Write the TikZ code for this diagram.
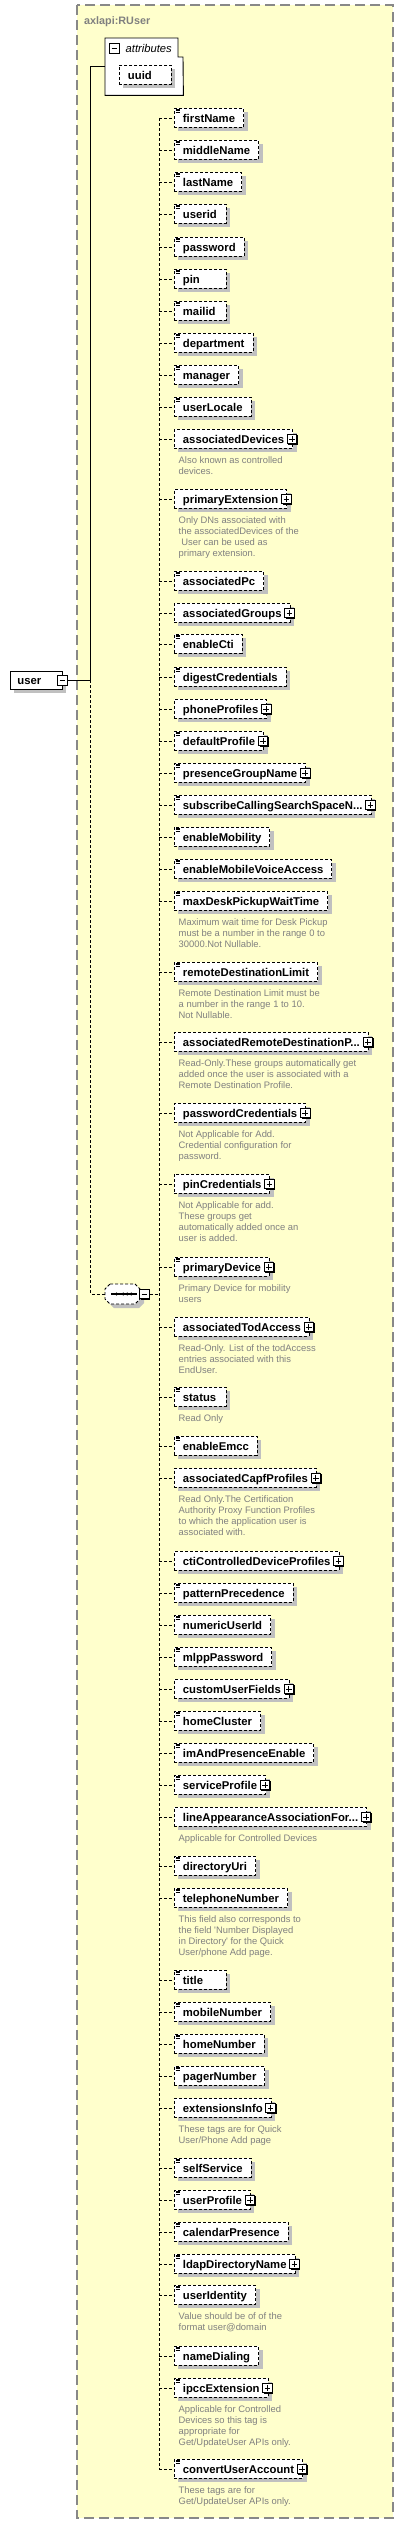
\documentclass[tikz,border=0pt]{standalone}
\usepackage{fontspec}
\setmainfont{Liberation Sans}
\newfontfamily\xsans{Liberation Sans}
\usetikzlibrary{shadows}
\definecolor{bgyellow}{HTML}{FFFFCC}
\definecolor{framegray}{HTML}{888888}
\definecolor{titlegray}{HTML}{808080}
\definecolor{descgray}{HTML}{808080}
\definecolor{shadowgray}{HTML}{C0C0C0}
\newlength\xlen
\newcommand{\padto}[1]{\settowidth{\xlen}{#1}\ifdim\xlen<35pt\makebox[35pt][l]{#1}\else#1\fi}
\tikzset{
  elem/.style={draw, fill=white, line width=0.9pt, dash pattern=on 3pt off 2pt,
    inner xsep=8.5pt, inner ysep=0pt, minimum height=19pt, text height=10pt, text depth=1.6pt,
    font=\xsans\fontsize{11.3}{13}\selectfont\bfseries,
    drop shadow={shadow xshift=4pt, shadow yshift=-4pt, fill=shadowgray, opacity=1},
    anchor=north west},
  userbox/.style={draw, fill=white, line width=0.9pt,
    inner xsep=7pt, inner ysep=0pt, minimum height=18pt, text height=10pt, text depth=1.6pt,
    font=\xsans\fontsize{11.3}{13}\selectfont\bfseries,
    drop shadow={shadow xshift=4pt, shadow yshift=-4pt, fill=shadowgray, opacity=1},
    anchor=north west},
  conn/.style={line width=0.9pt, dash pattern=on 3pt off 2pt},
  solidline/.style={line width=0.9pt},
  plusbox/.style={draw, fill=white, line width=0.8pt, minimum size=9.5pt, inner sep=0pt,
    drop shadow={shadow xshift=1.2pt, shadow yshift=-1.2pt, fill=black, opacity=1}},
  desc/.style={anchor=north west, inner sep=0pt, align=left, text=descgray,
    font=\xsans\fontsize{9.4}{11}\selectfont},
  frame/.style={draw=framegray, fill=bgyellow, line width=1.2pt, dash pattern=on 10pt off 5pt}
}
% element box + connector
\newcommand{\xel}[3]{\node[elem] (#1) at (174,#2) {\padto{#3}};
  \draw[conn] (cx |- #1.west) -- (#1.west);}
% simple-type icon
\newcommand{\xic}[1]{\foreach \k in {1,2.7,4.4}{\draw[line width=0.8pt] ([xshift=1.6pt,yshift=-\k pt]#1.north west) -- ++(4.6,0);}}
% expand (plus) box
\newcommand{\xpl}[1]{\node[plusbox] (#1p) at ([xshift=-1pt]#1.east) {};
  \draw[line width=0.8pt] ([xshift=-2.8pt]#1p.center) -- ([xshift=2.8pt]#1p.center)
    ([yshift=-2.8pt]#1p.center) -- ([yshift=2.8pt]#1p.center);}
% description
\newcommand{\xds}[2]{\node[desc] (#1d) at ([xshift=4.5pt,yshift=-26.5pt]#1.north west) {\rule{0pt}{8pt}#2};}
\begin{document}
\begin{tikzpicture}[x=1pt,y=-1pt]
\useasboundingbox (0,0) rectangle (404,2524);
\fill[white] (0,0) rectangle (404,2524);
\draw[frame] (77,5) rectangle (393,2518);
\node[anchor=base west, inner sep=0pt, text=titlegray, font=\xsans\fontsize{10.8}{13}\selectfont\bfseries] (ttl0) at (84,24) {axlapi:RUser};
\coordinate (vx) at (90.5,0);
\coordinate (cx) at (159.3,0);
% attributes group
\node[inner sep=0pt, minimum width=78pt, minimum height=57pt, anchor=north west] (attr) at (105,38) {};
\draw[solidline, fill=white] (attr.north west) -- ++(73,0) -- ++(0,19) -- ++(5,0) -- (attr.south east) -- (attr.south west) -- cycle;
\node[plusbox] (attrm) at (114.5,48.5) {};
\draw[line width=0.8pt] ([xshift=-2.8pt]attrm.center) -- ([xshift=2.8pt]attrm.center);
\node[anchor=west, inner sep=0pt, font=\xsans\fontsize{11.2}{13}\selectfont\itshape] (attrt) at (125.5,48.5) {attributes};
\node[elem] (uuid) at (119,65) {\padto{uuid}};
% root element
\node[userbox] (user) at (10,671) {\makebox[38pt][l]{user}};
\node[plusbox] (userm) at ([xshift=-0.5pt]user.east) {};
\draw[line width=0.8pt] ([xshift=-2.8pt]userm.center) -- ([xshift=2.8pt]userm.center);
\draw[solidline] (userm.east) -- (vx |- userm.east);
\draw[solidline] (attr.west) -- (vx |- attr.west) -- (vx |- userm.east);
% sequence compositor
\node[inner sep=0pt, minimum width=35pt, minimum height=20pt] (seq) at (122.5,1294) {};
\fill[shadowgray, shift={(4,4)}] (110,1284) -- (135,1284) -- (140,1289) -- (140,1299) -- (135,1304) -- (110,1304) -- (105,1299) -- (105,1289) -- cycle;
\draw[conn, fill=white] (110,1284) -- (135,1284) -- (140,1289) -- (140,1299) -- (135,1304) -- (110,1304) -- (105,1299) -- (105,1289) -- cycle;
\draw[line width=1.1pt] (111,1294) -- (137,1294);
\foreach \d in {116.5,123.3,127.3,131.3}{\fill (\d,1294) circle[radius=1.6pt];}
\node[plusbox] (seqm) at (144.5,1294) {};
\draw[line width=0.8pt] ([xshift=-2.8pt]seqm.center) -- ([xshift=2.8pt]seqm.center);
\draw[conn] (vx |- userm.east) -- (vx |- seq.west) -- (seq.west);
% children
\xel{fn}{108}{firstName}\xic{fn}
\xel{mn}{140}{middleName}\xic{mn}
\xel{lnm}{172}{lastName}\xic{lnm}
\xel{uid}{204}{userid}\xic{uid}
\xel{pw}{237}{password}\xic{pw}
\xel{pin}{269}{pin}\xic{pin}
\xel{mail}{301}{mailid}\xic{mail}
\xel{dep}{333}{department}\xic{dep}
\xel{mgr}{365}{manager}\xic{mgr}
\xel{loc}{397}{userLocale}\xic{loc}
\xel{adev}{429}{associatedDevices\hspace{4pt}}\xpl{adev}
\xds{adev}{Also known as controlled\\devices.}
\xel{pext}{489}{primaryExtension\hspace{4pt}}\xpl{pext}
\xds{pext}{Only DNs associated with\\the associatedDevices of the\\\hspace{2.6pt}User can be used as\\primary extension.}
\xel{apc}{571}{associatedPc}\xic{apc}
\xel{agrp}{603}{associatedGroups\hspace{4pt}}\xpl{agrp}
\xel{cti}{634}{enableCti}\xic{cti}
\xel{dig}{667}{digestCredentials}\xic{dig}
\xel{php}{699}{phoneProfiles\hspace{4pt}}\xpl{php}
\xel{dprof}{731}{defaultProfile\hspace{4pt}}\xic{dprof}\xpl{dprof}
\xel{pgn}{763}{presenceGroupName\hspace{4pt}}\xic{pgn}\xpl{pgn}
\xel{scss}{795}{subscribeCallingSearchSpaceN...\hspace{4pt}}\xic{scss}\xpl{scss}
\xel{emob}{827}{enableMobility}\xic{emob}
\xel{emva}{859}{enableMobileVoiceAccess}\xic{emva}
\xel{mdp}{891}{maxDeskPickupWaitTime}\xic{mdp}
\xds{mdp}{Maximum wait time for Desk Pickup\\must be a number in the range 0 to\\30000.Not Nullable.}
\xel{rdl}{962}{remoteDestinationLimit}\xic{rdl}
\xds{rdl}{Remote Destination Limit must be\\a number in the range 1 to 10.\\Not Nullable.}
\xel{ardp}{1032}{associatedRemoteDestinationP...\hspace{4pt}}\xpl{ardp}
\xds{ardp}{Read-Only.These groups automatically get\\added once the user is associated with a\\Remote Destination Profile.}
\xel{pwc}{1103}{passwordCredentials\hspace{4pt}}\xpl{pwc}
\xds{pwc}{Not Applicable for Add.\\Credential configuration for\\password.}
\xel{pinc}{1174}{pinCredentials\hspace{4pt}}\xpl{pinc}
\xds{pinc}{Not Applicable for add.\\These groups get\\automatically added once an\\user is added.}
\xel{pdev}{1257}{primaryDevice\hspace{4pt}}\xic{pdev}\xpl{pdev}
\xds{pdev}{Primary Device for mobility\\users}
\xel{atod}{1317}{associatedTodAccess\hspace{4pt}}\xpl{atod}
\xds{atod}{Read-Only. List of the todAccess\\entries associated with this\\EndUser.}
\xel{stat}{1387}{status}\xic{stat}
\xds{stat}{Read Only}
\xel{emcc}{1436}{enableEmcc}\xic{emcc}
\xel{acapf}{1468}{associatedCapfProfiles\hspace{4pt}}\xpl{acapf}
\xds{acapf}{Read Only.The Certification\\Authority Proxy Function Profiles\\to which the application user is\\associated with.}
\xel{ctic}{1551}{ctiControlledDeviceProfiles\hspace{4pt}}\xpl{ctic}
\xel{patp}{1583}{patternPrecedence}\xic{patp}
\xel{nuid}{1615}{numericUserId}\xic{nuid}
\xel{mlpp}{1647}{mlppPassword}\xic{mlpp}
\xel{cuf}{1679}{customUserFields\hspace{4pt}}\xpl{cuf}
\xel{hcl}{1711}{homeCluster}\xic{hcl}
\xel{imp}{1743}{imAndPresenceEnable}\xic{imp}
\xel{svc}{1775}{serviceProfile\hspace{4pt}}\xic{svc}\xpl{svc}
\xel{laa}{1807}{lineAppearanceAssociationFor...\hspace{4pt}}\xpl{laa}
\xds{laa}{Applicable for Controlled Devices}
\xel{duri}{1856}{directoryUri}\xic{duri}
\xel{tel}{1888}{telephoneNumber}\xic{tel}
\xds{tel}{This field also corresponds to\\the field 'Number Displayed\\in Directory' for the Quick\\User/phone Add page.}
\xel{ttl}{1970}{title}\xic{ttl}
\xel{mob}{2002}{mobileNumber}\xic{mob}
\xel{home}{2034}{homeNumber}\xic{home}
\xel{pager}{2066}{pagerNumber}\xic{pager}
\xel{ext}{2098}{extensionsInfo\hspace{4pt}}\xpl{ext}
\xds{ext}{These tags are for Quick\\User/Phone Add page}
\xel{self}{2158}{selfService}\xic{self}
\xel{uprof}{2190}{userProfile\hspace{4pt}}\xic{uprof}\xpl{uprof}
\xel{cal}{2222}{calendarPresence}\xic{cal}
\xel{ldap}{2254}{ldapDirectoryName\hspace{4pt}}\xic{ldap}\xpl{ldap}
\xel{uidt}{2285}{userIdentity}\xic{uidt}
\xds{uidt}{Value should be of of the\\format user@domain}
\xel{ndial}{2346}{nameDialing}\xic{ndial}
\xel{ipcc}{2378}{ipccExtension\hspace{4pt}}\xic{ipcc}\xpl{ipcc}
\xds{ipcc}{Applicable for Controlled\\Devices so this tag is\\appropriate for\\Get/UpdateUser APIs only.}
\xel{conv}{2459}{convertUserAccount\hspace{4pt}}\xic{conv}\xpl{conv}
\xds{conv}{These tags are for\\Get/UpdateUser APIs only.}
% sequence trunk
\draw[conn] (cx |- fn.west) -- (cx |- conv.west);
\draw[conn] (seqm.east) -- (cx |- seqm.east);
\end{tikzpicture}
\end{document}
